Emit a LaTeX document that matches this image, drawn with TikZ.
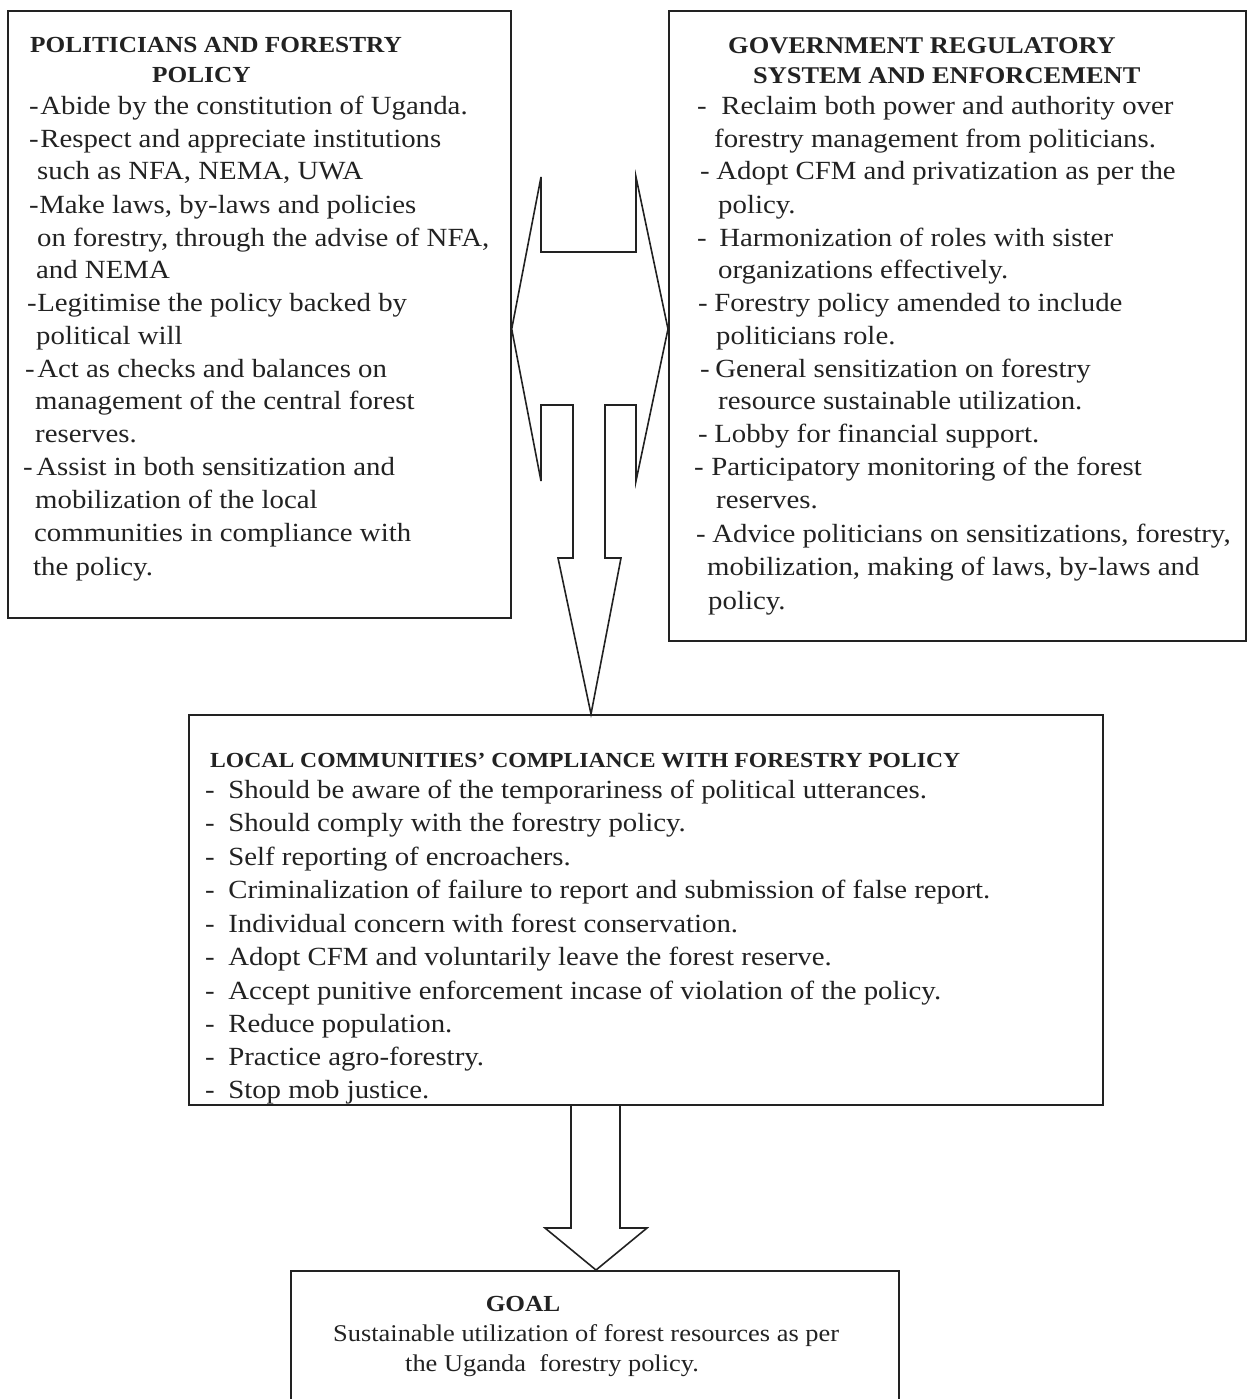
\documentclass[tikz,border=0pt]{standalone}
\usepackage{fontspec}
\setmainfont{Liberation Serif}[FakeStretch=1.1]
\definecolor{ink}{HTML}{222222}
\begin{document}
\begin{tikzpicture}[x=1pt,y=-1pt,
  box/.style={draw=ink, line width=1.7pt, inner sep=0pt, anchor=north west},
  blockarrow/.style={draw=ink, line width=1.6pt, line join=miter},
  body/.style={anchor=base west, inner sep=0pt, text=ink, font=\fontsize{26.2}{33}\selectfont},
  head/.style={anchor=base west, inner sep=0pt, text=ink, font=\bfseries\fontsize{23}{28}\selectfont},
  midhead/.style={anchor=base west, inner sep=0pt, text=ink, font=\bfseries\fontsize{21.5}{26}\selectfont},
  goaltext/.style={inner sep=0pt, text=ink, font=\fontsize{24}{30}\selectfont}]
\useasboundingbox (0,0) rectangle (1248,1399);

% boxes
\node[box, minimum width=503pt, minimum height=607pt] (pol) at (7,10) {};
\node[box, minimum width=577pt, minimum height=630pt] (gov) at (668,10) {};
\node[box, minimum width=914pt, minimum height=390pt] (loc) at (188,714) {};
\node[box, minimum width=608pt, minimum height=150pt] (goal) at (290,1270) {};

% headings
\node[head] (polh1) at (30,53) {POLITICIANS AND FORESTRY};
\node[head] (polh2) at (152,83) {POLICY};
\node[head, font=\bfseries\fontsize{24}{28}\selectfont] (govh1) at (728,54) {GOVERNMENT REGULATORY};
\node[head, font=\bfseries\fontsize{24}{28}\selectfont] (govh2) at (753,84) {SYSTEM AND ENFORCEMENT};
\node[midhead] (loch) at (210,767) {LOCAL COMMUNITIES' COMPLIANCE WITH FORESTRY POLICY};
\node[goaltext, font=\bfseries\fontsize{23}{28}\selectfont, anchor=base] (goalh) at (523,1311) {GOAL};
\node[goaltext, anchor=base west] (goal1) at (333,1341) {Sustainable utilization of forest resources as per};
\node[goaltext, anchor=base west] (goal2) at (405,1371) {the Uganda\ \ forestry policy.};

% left box lines
\foreach \x/\y/\t [count=\i] in {
  29/115/{-\hspace*{1.5pt}Abide by the constitution of Uganda.},
  29/148/{-\hspace*{1.5pt}Respect and appreciate institutions},
  37/180/{such as NFA, NEMA, UWA},
  29/213/{-\hspace*{0.5pt}Make laws, by-laws and policies},
  37/246/{on forestry, through the advise of NFA,},
  36/278/{and NEMA},
  27/311/{-\hspace*{0.5pt}Legitimise the policy backed by},
  36/344/{political will},
  25/377/{-\hspace*{2.5pt}Act as checks and balances on},
  35/409/{management of the central forest},
  35/442/{reserves.},
  23/475/{-\hspace*{3.5pt}Assist in both sensitization and},
  35/508/{mobilization of the local},
  34/541/{communities in compliance with},
  33/575/{the policy.}}
  \node[body] (pl\i) at (\x,\y) {\t};

% right box lines
\foreach \x/\y/\t [count=\i] in {
  697/115/{-\hspace*{14.5pt}Reclaim both power and authority over},
  714/148/{forestry management from politicians.},
  700/180/{-\hspace*{6.5pt}Adopt CFM and privatization as per the},
  718/213/{policy.},
  697/246/{-\hspace*{12.5pt}Harmonization of roles with sister},
  718/278/{organizations effectively.},
  698/311/{-\hspace*{6.5pt}Forestry policy amended to include},
  716/344/{politicians role.},
  700/377/{-\hspace*{5.5pt}General sensitization on forestry},
  718/409/{resource sustainable utilization.},
  698/442/{-\hspace*{6.5pt}Lobby for financial support.},
  694/475/{-\hspace*{7.5pt}Participatory monitoring of the forest},
  716/508/{reserves.},
  696/542/{-\hspace*{6.5pt}Advice politicians on sensitizations, forestry,},
  707/575/{mobilization, making of laws, by-laws and},
  708/609/{policy.}}
  \node[body] (gv\i) at (\x,\y) {\t};

% middle box lines
\foreach \y/\t [count=\i] in {
  798/{Should be aware of the temporariness of political utterances.},
  831/{Should comply with the forestry policy.},
  865/{Self reporting of encroachers.},
  898/{Criminalization of failure to report and submission of false report.},
  932/{Individual concern with forest conservation.},
  965/{Adopt CFM and voluntarily leave the forest reserve.},
  999/{Accept punitive enforcement incase of violation of the policy.},
  1032/{Reduce population.},
  1065/{Practice agro-forestry.},
  1098/{Stop mob justice.}}
  \node[body] (lc\i) at (205,\y) {-\hspace*{13.5pt}\t};

% combined double arrow + down arrow
\coordinate (ltip) at (pol.east |- 0,329);
\coordinate (rtip) at (gov.west |- 0,329);
\coordinate (dtip) at (591,0 |- loc.north);
\draw[blockarrow] (ltip) -- (541,177) -- (541,252) -- (636,252) -- (636,177)
  -- (rtip) -- (636,481) -- (636,405) -- (605,405) -- (605,558) -- (621,558)
  -- (dtip) -- (558,558) -- (573,558) -- (573,405) -- (541,405) -- (541,481) -- cycle;

% arrow to goal
\coordinate (s1) at (571,0 |- loc.south);
\coordinate (s2) at (620,0 |- loc.south);
\coordinate (gtip) at (596,0 |- goal.north);
\draw[blockarrow] (s1) -- (571,1228) -- (545,1228) -- (gtip) -- (647,1228) -- (620,1228) -- (s2);
\end{tikzpicture}
\end{document}
